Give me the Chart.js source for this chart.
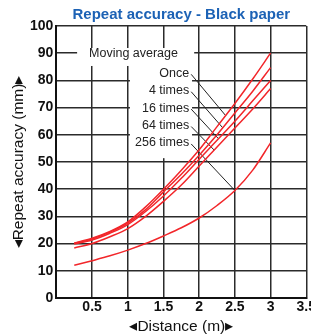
<!DOCTYPE html>
<html>
<head>
<meta charset="utf-8">
<script src="https://cdn.jsdelivr.net/npm/chart.js@4.4.0/dist/chart.umd.min.js"></script>
<style>
html, body { margin: 0; padding: 0; background: #fff; overflow: hidden; }
#wrap { width: 318px; height: 335px; }
</style>
</head>
<body>
<div id="wrap"><canvas id="myChart"></canvas></div>
<script>
// DATA
const distance = [0.25, 0.5, 0.75, 1, 1.25, 1.5, 1.75, 2, 2.25, 2.5, 2.75, 3];
const once     = [20.2, 22.0, 24.5, 28.0, 33.5, 40.0, 47.0, 54.5, 63.0, 71.5, 80.5, 90.0];
const times4   = [20.0, 21.7, 24.2, 27.5, 32.5, 39.0, 45.5, 52.5, 60.0, 68.0, 76.0, 84.7];
const times16  = [19.8, 21.3, 23.8, 27.0, 31.8, 37.5, 44.0, 51.0, 58.0, 65.0, 72.5, 80.0];
const times64  = [18.4, 20.0, 22.5, 25.5, 30.0, 35.5, 41.5, 48.5, 55.5, 62.5, 69.5, 77.0];
const times256 = [12.0, 13.7, 15.5, 17.6, 20.0, 22.8, 25.8, 29.4, 34.0, 39.5, 47.0, 57.0];
const seriesNames = ['Once', '4 times', '16 times', '64 times', '256 times'];
const xTicks = [0.5, 1, 1.5, 2, 2.5, 3, 3.5];
const yTicks = [0, 10, 20, 30, 40, 50, 60, 70, 80, 90, 100];

// where the leader line of each series meets its curve (distance)
const leaderAt = [2.37, 2.33, 2.27, 2.21, 2.5];

const allSeries = [once, times4, times16, times64, times256];

function curveValue(values, xv) {
  for (let i = 0; i < distance.length - 1; i++) {
    if (xv >= distance[i] && xv <= distance[i + 1]) {
      let t = (xv - distance[i]) / (distance[i + 1] - distance[i]);
      return values[i] + t * (values[i + 1] - values[i]);
    }
  }
  return values[values.length - 1];
}

// LABELS, WHITE BOXES AND LEADER LINES
const labelPlugin = {
  id: 'labels',
  beforeDatasetsDraw(chart) {
    const ctx = chart.ctx;
    const x = chart.scales.x;
    const y = chart.scales.y;
    ctx.save();
    ctx.fillStyle = '#fff';
    // box behind "Moving average"
    ctx.fillRect(x.getPixelForValue(0.29), y.getPixelForValue(91.9),
      x.getPixelForValue(1.93) - x.getPixelForValue(0.29), y.getPixelForValue(85.3) - y.getPixelForValue(91.9));
    // box behind series names
    ctx.fillRect(x.getPixelForValue(1.03), y.getPixelForValue(87.5),
      x.getPixelForValue(1.9) - x.getPixelForValue(1.03), y.getPixelForValue(51.4) - y.getPixelForValue(87.5));

    ctx.fillStyle = '#222';
    ctx.font = '12.5px "Liberation Sans", Arial, sans-serif';
    ctx.textBaseline = 'middle';
    ctx.textAlign = 'center';
    ctx.fillText('Moving average', x.getPixelForValue(1.08), y.getPixelForValue(90));

    ctx.textAlign = 'right';
    ctx.strokeStyle = '#222';
    ctx.lineWidth = 1;
    const labelRight = x.getPixelForValue(1.86);
    seriesNames.forEach((name, i) => {
      let ly = y.getPixelForValue(82.6 - i * 6.4);
      ctx.fillText(name, labelRight, ly);
      let ex = x.getPixelForValue(leaderAt[i]);
      let ey = y.getPixelForValue(curveValue(allSeries[i], leaderAt[i]));
      ctx.beginPath();
      ctx.moveTo(labelRight + 2, ly + 1);
      ctx.lineTo(ex, ey);
      ctx.stroke();
    });
    ctx.restore();
  }
};

function makeSet(values) {
  return {
    data: values.map((v, i) => ({ x: distance[i], y: v })),
    borderColor: '#f2262a',
    borderWidth: 1.5,
    pointRadius: 0,
    fill: false,
    cubicInterpolationMode: 'monotone'
  };
}

const tickFont = { family: '"Liberation Sans", Arial, sans-serif', size: 14, weight: 'bold', lineHeight: 1 };
const titleFont = { family: '"Liberation Sans", Arial, sans-serif', size: 15.5, lineHeight: 1.1 };

let myChart = document.getElementById('myChart').getContext('2d');
new Chart(myChart, {
  type: 'line',
  data: {
    datasets: allSeries.map(makeSet)
  },
  options: {
    responsive: true,
    maintainAspectRatio: false,
    animation: false,
    devicePixelRatio: 1,
    layout: { padding: { left: 0, right: 0, top: 0, bottom: 0 } },
    scales: {
      x: {
        type: 'linear',
        min: 0,
        max: 3.5,
        afterBuildTicks: (scale) => { scale.ticks = xTicks.map(v => ({ value: v })); },
        ticks: { color: '#111', font: tickFont, padding: 2, maxRotation: 0, callback: (v) => String(v) },
        grid: { color: '#2b2b2b', lineWidth: 1.5, drawTicks: false },
        border: { color: '#111', width: 2 },
        title: { display: true, text: '◂Distance (m)▸', color: '#111', font: titleFont, padding: { top: 2, bottom: 0 } }
      },
      y: {
        min: 0,
        max: 100,
        afterBuildTicks: (scale) => { scale.ticks = yTicks.map(v => ({ value: v })); },
        ticks: { color: '#111', font: tickFont, padding: 3 },
        grid: { color: '#2b2b2b', lineWidth: 1.5, drawTicks: false },
        border: { color: '#111', width: 2 },
        title: { display: true, text: '◂Repeat accuracy (mm)▸', color: '#111', font: titleFont, padding: { top: 10, bottom: 0 } }
      }
    },
    plugins: {
      legend: { display: false },
      tooltip: { enabled: false },
      title: {
        display: true,
        fullSize: false,
        text: 'Repeat accuracy - Black paper',
        color: '#1c62b5',
        font: { family: '"Liberation Sans", Arial, sans-serif', size: 15, weight: 'bold' },
        padding: { top: 6, bottom: 2 }
      }
    }
  },
  plugins: [labelPlugin]
});
</script>
</body>
</html>
